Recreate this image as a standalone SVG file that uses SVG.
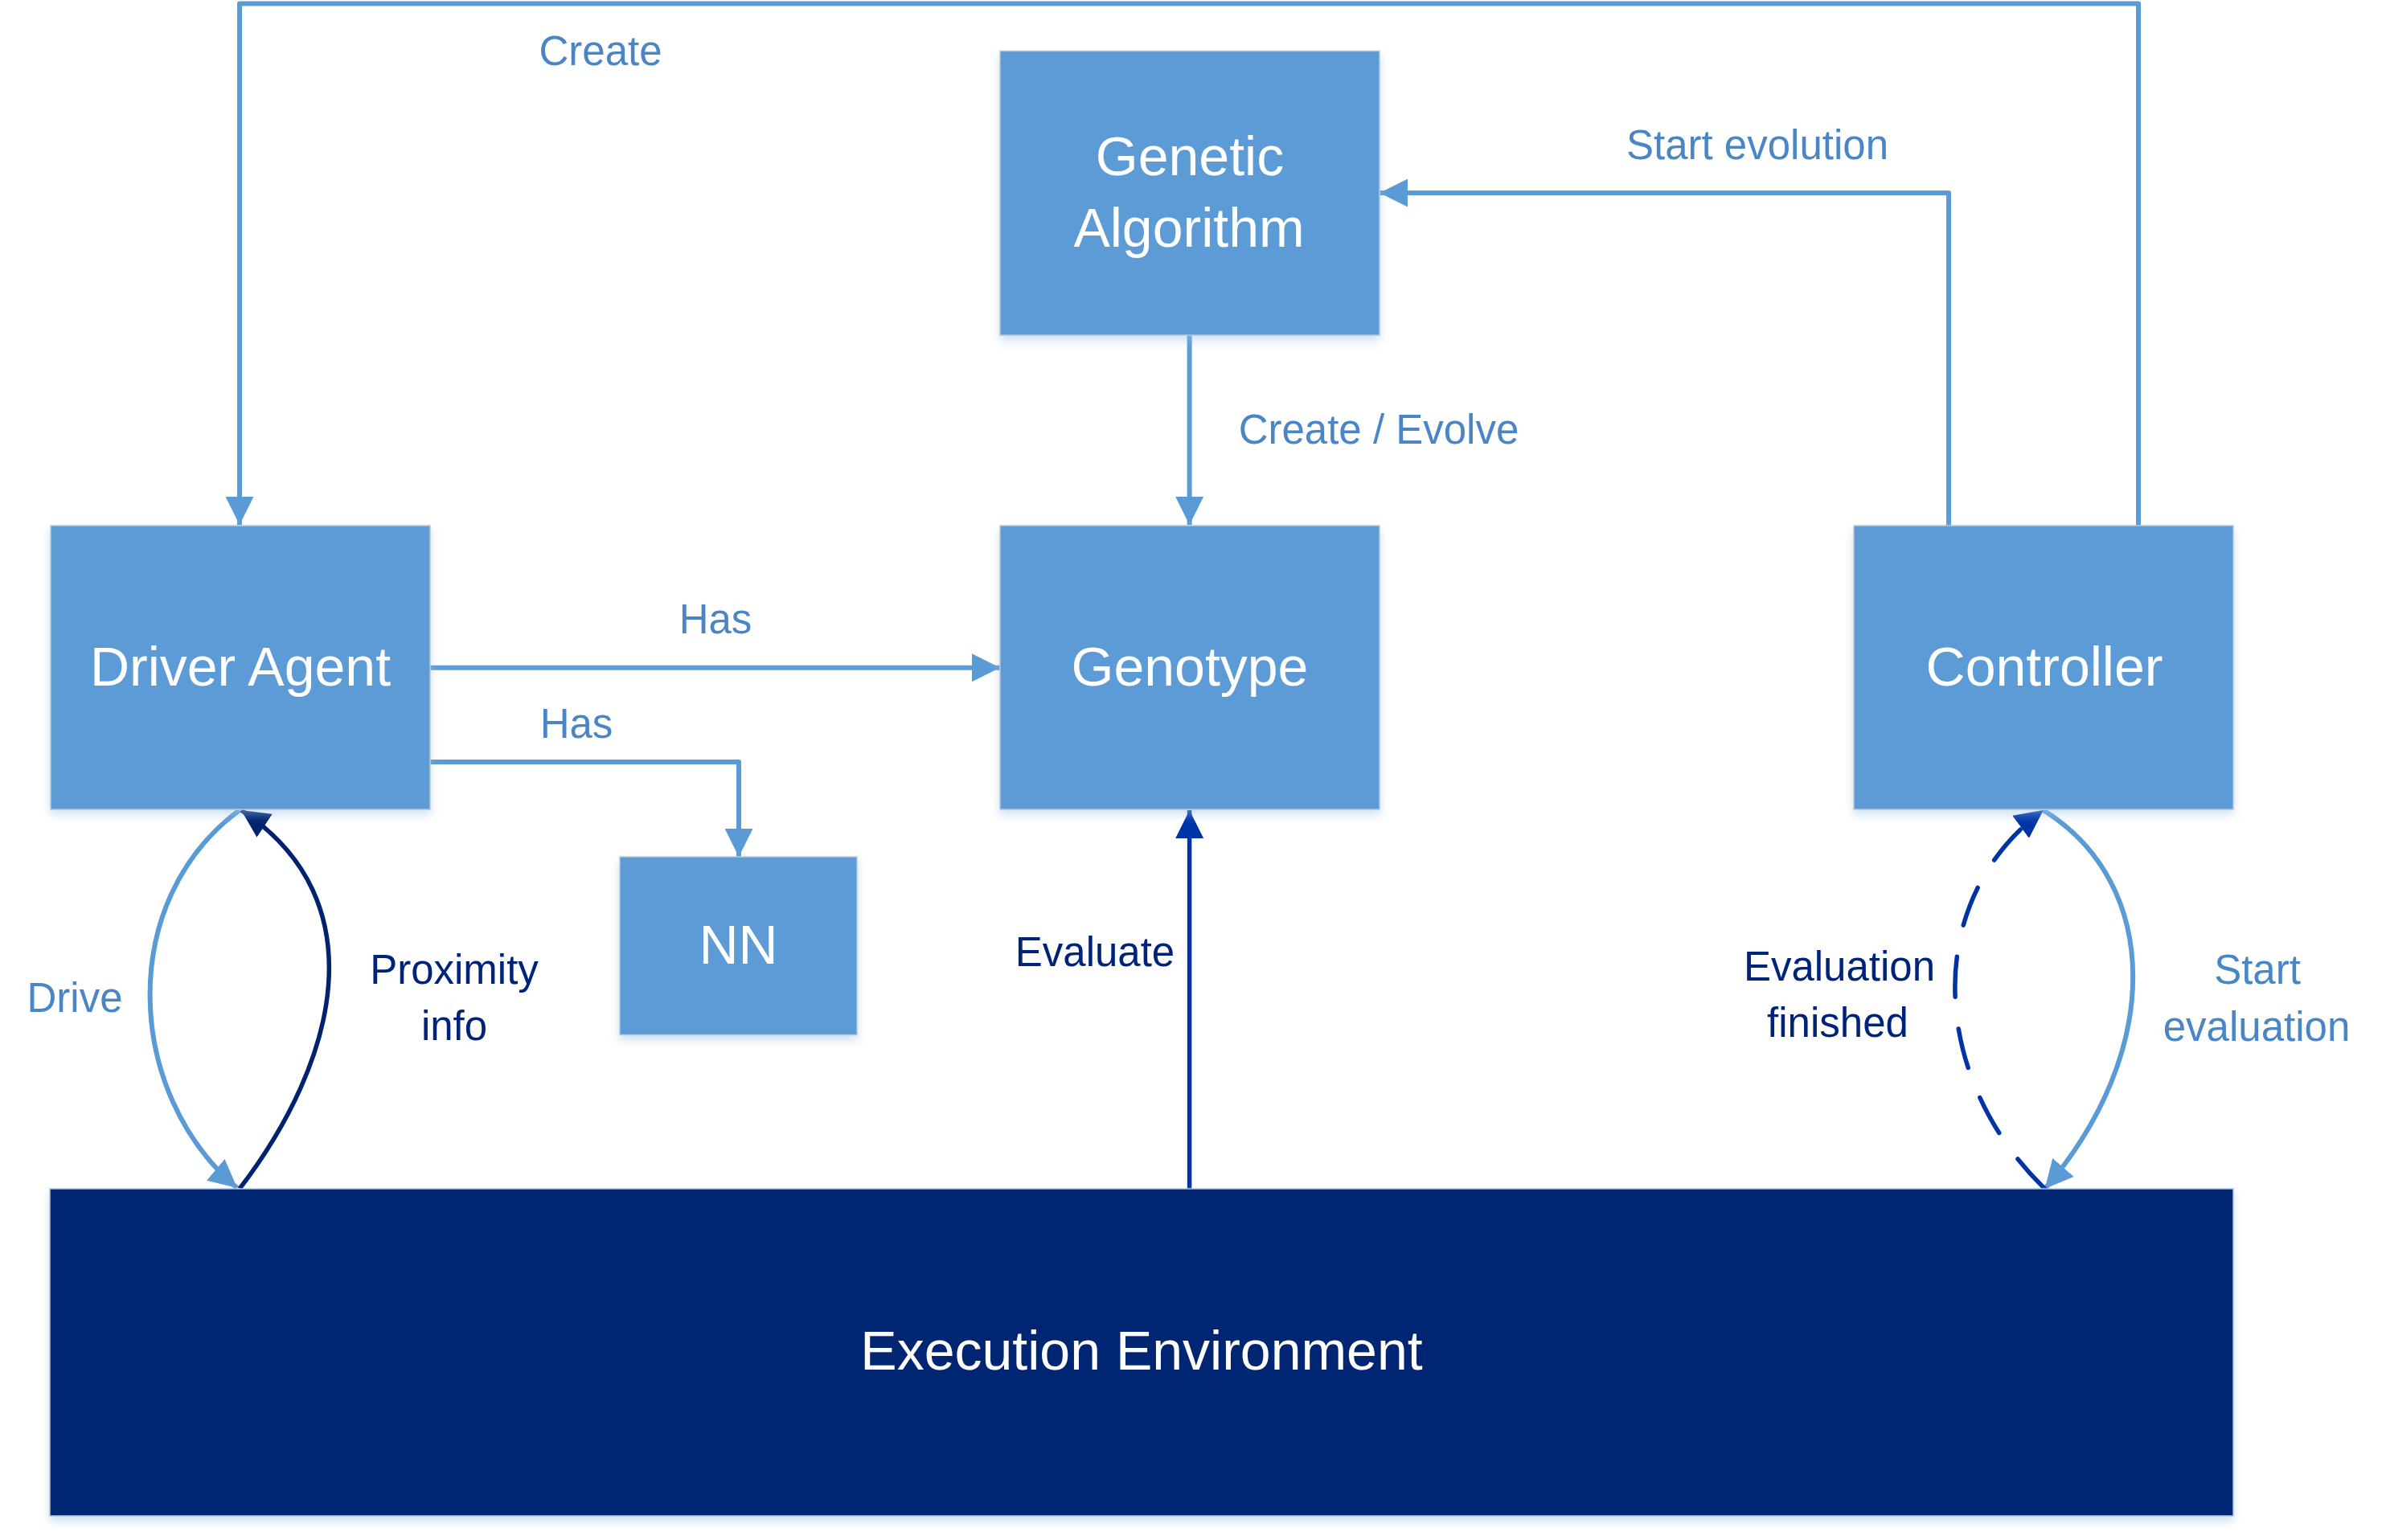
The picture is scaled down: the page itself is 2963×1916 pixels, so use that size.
<svg xmlns="http://www.w3.org/2000/svg" width="2963" height="1916" viewBox="0 0 2963 1916">
  <style>
    .node { fill: #5B9BD5; stroke: #B8C6DA; stroke-width: 1.5; filter: url(#shadow); }
    .exec { fill: #002673; stroke: #B8C6DA; stroke-width: 1.5; filter: url(#shadow); }
    .ntext { font-family: "Liberation Sans", Arial, sans-serif; font-size: 68px; fill: #FFFFFF; text-anchor: middle; }
    .lbl { font-family: "Liberation Sans", Arial, sans-serif; font-size: 51px; text-anchor: middle; }
    .light { fill: #4A86C6; }
    .dark { fill: #00237A; }
    .c-light { fill: none; stroke: #5B9BD5; stroke-width: 6; stroke-linejoin: round; }
    .c-navy { fill: none; stroke: #002270; stroke-width: 5.5; }
    .c-blue { fill: none; stroke: #0033A6; stroke-width: 5.5; }
  </style>
  <defs>
    <filter id="shadow" x="-10%" y="-10%" width="120%" height="130%">
      <feDropShadow dx="0" dy="6" stdDeviation="6" flood-color="#9DC3E6" flood-opacity="0.5"/>
    </filter>
    <marker id="ah-light" markerUnits="userSpaceOnUse" markerWidth="35" markerHeight="35" viewBox="0 0 35 35" refX="35" refY="17.5" orient="auto">
      <path d="M0,0 L35,17.5 L0,35 z" fill="#5B9BD5"/>
    </marker>
    <marker id="ah-navy" markerUnits="userSpaceOnUse" markerWidth="35" markerHeight="35" viewBox="0 0 35 35" refX="35" refY="17.5" orient="auto">
      <path d="M0,0 L35,17.5 L0,35 z" fill="#002270"/>
    </marker>
    <marker id="ah-blue" markerUnits="userSpaceOnUse" markerWidth="35" markerHeight="35" viewBox="0 0 35 35" refX="35" refY="17.5" orient="auto">
      <path d="M0,0 L35,17.5 L0,35 z" fill="#0033A6"/>
    </marker>
  </defs>

  <rect width="2963" height="1916" fill="#FFFFFF"/>

  <g id="connectors">
    <!-- Controller -> Driver Agent (Create) -->
    <path id="c-create" class="c-light" d="M2660,654 V4.5 H298 V653" marker-end="url(#ah-light)"/>
    <!-- Controller -> Genetic Algorithm (Start evolution) -->
    <path id="c-start-evolution" class="c-light" d="M2424,654 V240 H1716" marker-end="url(#ah-light)"/>
    <!-- Genetic Algorithm -> Genotype (Create / Evolve) -->
    <path id="c-create-evolve" class="c-light" d="M1479.6,417 V653" marker-end="url(#ah-light)"/>
    <!-- Driver Agent -> Genotype (Has) -->
    <path id="c-has-genotype" class="c-light" d="M535,830.7 H1244" marker-end="url(#ah-light)"/>
    <!-- Driver Agent -> NN (Has) -->
    <path id="c-has-nn" class="c-light" d="M535,948 H919 V1066" marker-end="url(#ah-light)"/>
    <!-- Driver Agent -> Execution Environment (Drive) -->
    <path id="c-drive" class="c-light" d="M298,1008 C145,1120 155,1360 295,1478" marker-end="url(#ah-light)"/>
    <!-- Execution Environment -> Driver Agent (Proximity info) -->
    <path id="c-proximity" class="c-navy" d="M298,1479 C420,1320 470,1120 300,1008" marker-end="url(#ah-navy)"/>
    <!-- Execution Environment -> Genotype (Evaluate) -->
    <path id="c-evaluate" class="c-blue" d="M1479.6,1479 V1008" marker-end="url(#ah-blue)"/>
    <!-- Controller -> Execution Environment (Start evaluation) -->
    <path id="c-start-evaluation" class="c-light" d="M2541.7,1008 C2690,1100 2690,1310 2543.6,1479" marker-end="url(#ah-light)"/>
    <!-- Execution Environment -> Controller (Evaluation finished), dashed -->
    <path id="c-evaluation-finished" class="c-blue" stroke-width="6" stroke-linecap="round" stroke-dasharray="50 40" d="M2543.6,1479 C2400,1340 2390,1120 2541.7,1008" marker-end="url(#ah-blue)"/>
  </g>

  <g id="connector-labels">
    <text class="lbl light" x="747" y="81">Create</text>
    <text class="lbl light" x="2186" y="198">Start evolution</text>
    <text class="lbl light" x="1715" y="552">Create / Evolve</text>
    <text class="lbl light" x="890" y="788">Has</text>
    <text class="lbl light" x="717" y="918">Has</text>
    <text class="lbl light" x="93" y="1259">Drive</text>
    <text class="lbl dark" x="565" y="1224">Proximity</text>
    <text class="lbl dark" x="565" y="1294">info</text>
    <text class="lbl dark" x="1362" y="1202">Evaluate</text>
    <text class="lbl dark" x="2288" y="1220">Evaluation</text>
    <text class="lbl dark" x="2286" y="1290">finished</text>
    <text class="lbl light" x="2808" y="1224">Start</text>
    <text class="lbl light" x="2807" y="1295">evaluation</text>
  </g>

  <g id="node-genetic-algorithm">
    <rect class="node" x="1244" y="63.5" width="472" height="353.5"/>
    <text class="ntext" x="1480" y="218">Genetic</text>
    <text class="ntext" x="1479" y="307">Algorithm</text>
  </g>

  <g id="node-driver-agent">
    <rect class="node" x="63" y="654" width="472" height="353"/>
    <text class="ntext" x="299" y="853">Driver Agent</text>
  </g>

  <g id="node-genotype">
    <rect class="node" x="1244" y="654" width="472" height="353"/>
    <text class="ntext" x="1480" y="853">Genotype</text>
  </g>

  <g id="node-controller">
    <rect class="node" x="2306" y="654" width="472" height="353"/>
    <text class="ntext" x="2543" y="853">Controller</text>
  </g>

  <g id="node-nn">
    <rect class="node" x="771" y="1066" width="295" height="221.5"/>
    <text class="ntext" x="918.5" y="1199">NN</text>
  </g>

  <g id="node-execution-environment">
    <rect class="exec" x="62" y="1479" width="2716" height="407"/>
    <text class="ntext" x="1420" y="1704">Execution Environment</text>
  </g>
</svg>
